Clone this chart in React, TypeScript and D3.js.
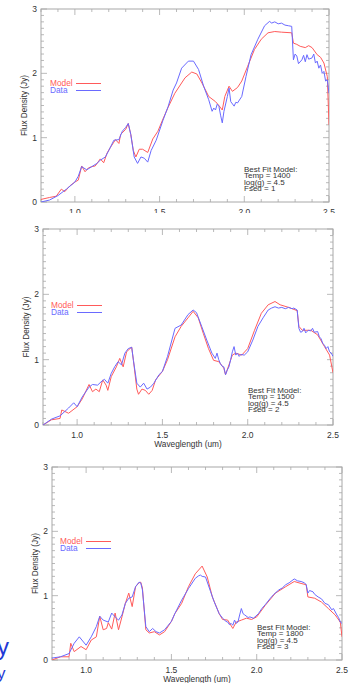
import React from 'react'
import * as d3 from 'd3'

type Pt = [number, number]

const xTicks = [1.0, 1.5, 2.0, 2.5]
const yTicks = [0, 1, 2, 3]
const legendLabels = ['Model', 'Data']
const temps = [1400, 1500, 1800]
const fseds = [1, 2, 3]
const logg = 4.5
const xTitle = 'Waveglength (um)'
const yTitle = 'Flux Density (Jy)'

// panel 1 : Temp 1400, Fsed 1
const model1: Pt[] = [[0.8,0.04],[0.85,0.07],[0.89,0.09],[0.92,0.2],[0.94,0.16],[0.97,0.25],[1.0,0.31],[1.02,0.34],[1.04,0.56],[1.06,0.47],[1.08,0.53],[1.1,0.55],[1.12,0.56],[1.15,0.67],[1.17,0.61],[1.19,0.76],[1.21,0.85],[1.23,0.93],[1.24,0.97],[1.26,0.91],[1.27,1.05],[1.3,1.13],[1.315,1.22],[1.33,1.05],[1.345,0.8],[1.36,0.7],[1.38,0.82],[1.4,0.82],[1.43,0.77],[1.46,0.98],[1.49,1.1],[1.52,1.29],[1.55,1.47],[1.59,1.69],[1.65,1.93],[1.69,2.02],[1.72,1.99],[1.75,1.85],[1.79,1.64],[1.83,1.56],[1.85,1.5],[1.87,1.43],[1.885,1.64],[1.91,1.8],[1.93,1.72],[1.96,1.78],[1.985,1.88],[2.02,2.11],[2.06,2.37],[2.1,2.53],[2.14,2.63],[2.18,2.65],[2.22,2.64],[2.28,2.63],[2.29,2.47],[2.31,2.45],[2.33,2.42],[2.36,2.4],[2.38,2.43],[2.4,2.4],[2.43,2.29],[2.45,2.25],[2.47,2.16],[2.49,1.95],[2.5,1.2]]
const data1: Pt[] = [[0.8,0.0],[0.85,0.03],[0.9,0.1],[0.95,0.2],[1.0,0.31],[1.02,0.4],[1.04,0.55],[1.07,0.5],[1.1,0.55],[1.13,0.6],[1.15,0.65],[1.18,0.7],[1.2,0.8],[1.23,0.96],[1.26,0.97],[1.28,1.1],[1.3,1.16],[1.315,1.22],[1.33,1.05],[1.35,0.7],[1.37,0.6],[1.39,0.7],[1.41,0.68],[1.43,0.62],[1.45,0.8],[1.48,0.96],[1.52,1.27],[1.55,1.48],[1.58,1.74],[1.6,1.85],[1.63,2.08],[1.67,2.19],[1.7,2.19],[1.73,2.06],[1.76,1.8],[1.79,1.59],[1.81,1.41],[1.82,1.46],[1.83,1.43],[1.84,1.52],[1.85,1.49],[1.86,1.35],[1.87,1.23],[1.88,1.41],[1.9,1.64],[1.91,1.77],[1.92,1.56],[1.94,1.49],[1.95,1.55],[1.96,1.54],[1.985,1.64],[2.01,1.95],[2.04,2.29],[2.08,2.53],[2.12,2.74],[2.15,2.81],[2.16,2.78],[2.18,2.8],[2.2,2.77],[2.22,2.78],[2.24,2.75],[2.26,2.74],[2.28,2.73],[2.29,2.21],[2.3,2.3],[2.31,2.27],[2.32,2.15],[2.34,2.21],[2.35,2.28],[2.36,2.18],[2.37,2.29],[2.38,2.22],[2.4,2.24],[2.41,2.3],[2.42,2.16],[2.43,2.19],[2.44,2.08],[2.45,2.13],[2.46,2.0],[2.47,2.03],[2.48,1.88],[2.49,1.9],[2.5,1.69]]

// panel 2 : Temp 1500, Fsed 2
const model2: Pt[] = [[0.8,0.0],[0.85,0.08],[0.9,0.1],[0.91,0.23],[0.95,0.18],[1.0,0.28],[1.03,0.4],[1.07,0.62],[1.09,0.51],[1.11,0.55],[1.13,0.51],[1.15,0.69],[1.17,0.61],[1.18,0.53],[1.2,0.74],[1.23,0.89],[1.25,1.02],[1.27,0.89],[1.29,1.12],[1.31,1.17],[1.32,1.19],[1.33,0.99],[1.35,0.55],[1.36,0.47],[1.38,0.55],[1.4,0.53],[1.42,0.47],[1.44,0.53],[1.46,0.69],[1.5,0.82],[1.53,1.0],[1.574,1.35],[1.61,1.51],[1.65,1.64],[1.68,1.74],[1.71,1.64],[1.74,1.4],[1.77,1.17],[1.8,0.99],[1.83,0.97],[1.86,0.87],[1.87,0.77],[1.89,0.92],[1.91,1.07],[1.93,1.1],[1.965,1.07],[2.0,1.17],[2.04,1.45],[2.08,1.71],[2.12,1.84],[2.16,1.89],[2.19,1.84],[2.24,1.8],[2.29,1.75],[2.3,1.51],[2.32,1.45],[2.37,1.45],[2.41,1.38],[2.45,1.2],[2.48,1.07],[2.5,0.8]]
const data2: Pt[] = [[0.8,0.0],[0.85,0.09],[0.9,0.14],[0.95,0.26],[0.98,0.34],[1.0,0.28],[1.03,0.43],[1.07,0.58],[1.09,0.62],[1.12,0.61],[1.14,0.66],[1.16,0.7],[1.18,0.64],[1.2,0.79],[1.22,0.89],[1.24,0.97],[1.26,0.92],[1.28,1.1],[1.3,1.17],[1.32,1.19],[1.33,0.99],[1.35,0.64],[1.37,0.58],[1.39,0.64],[1.41,0.55],[1.43,0.58],[1.45,0.64],[1.48,0.77],[1.5,0.82],[1.53,1.05],[1.574,1.48],[1.61,1.53],[1.65,1.69],[1.68,1.76],[1.7,1.72],[1.73,1.51],[1.76,1.3],[1.79,1.1],[1.81,1.02],[1.82,1.1],[1.83,1.0],[1.84,0.94],[1.85,0.9],[1.86,0.89],[1.87,0.77],[1.88,0.84],[1.89,0.89],[1.9,1.0],[1.91,1.12],[1.92,1.2],[1.93,1.07],[1.94,1.1],[1.95,1.05],[1.96,1.08],[1.98,1.07],[2.0,1.12],[2.03,1.3],[2.06,1.51],[2.09,1.64],[2.12,1.76],[2.14,1.79],[2.16,1.81],[2.18,1.79],[2.2,1.8],[2.22,1.78],[2.24,1.8],[2.26,1.78],[2.27,1.79],[2.29,1.76],[2.3,1.48],[2.31,1.42],[2.32,1.43],[2.33,1.48],[2.34,1.41],[2.355,1.45],[2.37,1.44],[2.38,1.48],[2.39,1.42],[2.41,1.43],[2.42,1.35],[2.43,1.32],[2.44,1.25],[2.45,1.22],[2.46,1.17],[2.47,1.2],[2.48,1.12],[2.49,1.1],[2.5,1.05]]

// panel 3 : Temp 1800, Fsed 3
const model3: Pt[] = [[0.8,0.0],[0.85,0.05],[0.9,0.05],[0.91,0.26],[0.93,0.13],[0.97,0.21],[1.0,0.16],[1.03,0.31],[1.06,0.36],[1.08,0.68],[1.1,0.47],[1.12,0.49],[1.13,0.58],[1.15,0.48],[1.17,0.73],[1.19,0.47],[1.21,0.67],[1.23,0.88],[1.25,1.04],[1.27,0.83],[1.29,1.14],[1.31,1.2],[1.32,1.21],[1.33,1.12],[1.35,0.47],[1.37,0.42],[1.4,0.44],[1.43,0.39],[1.46,0.44],[1.5,0.6],[1.52,0.72],[1.56,0.88],[1.6,1.14],[1.64,1.34],[1.68,1.46],[1.71,1.29],[1.74,0.98],[1.78,0.72],[1.8,0.63],[1.83,0.62],[1.86,0.49],[1.88,0.59],[1.91,0.62],[1.94,0.65],[1.97,0.63],[2.0,0.67],[2.05,0.85],[2.11,1.04],[2.17,1.14],[2.22,1.22],[2.26,1.19],[2.29,1.17],[2.3,0.98],[2.34,0.96],[2.38,0.9],[2.42,0.8],[2.46,0.7],[2.49,0.59],[2.5,0.36]]
const data3: Pt[] = [[0.8,0.03],[0.85,0.05],[0.9,0.1],[0.93,0.26],[0.96,0.36],[1.0,0.23],[1.03,0.36],[1.06,0.52],[1.08,0.68],[1.1,0.62],[1.13,0.59],[1.15,0.73],[1.17,0.67],[1.19,0.62],[1.21,0.7],[1.23,0.88],[1.25,0.96],[1.27,0.98],[1.29,1.14],[1.31,1.21],[1.32,1.2],[1.33,1.09],[1.35,0.52],[1.37,0.44],[1.39,0.49],[1.41,0.44],[1.43,0.42],[1.46,0.47],[1.5,0.6],[1.52,0.72],[1.56,0.93],[1.6,1.11],[1.64,1.27],[1.66,1.31],[1.67,1.32],[1.68,1.3],[1.7,1.29],[1.73,1.06],[1.75,0.91],[1.78,0.72],[1.8,0.65],[1.82,0.6],[1.83,0.59],[1.84,0.55],[1.85,0.57],[1.86,0.54],[1.87,0.62],[1.88,0.57],[1.89,0.59],[1.9,0.7],[1.91,0.8],[1.92,0.72],[1.93,0.7],[1.95,0.66],[1.96,0.67],[1.98,0.65],[1.99,0.67],[2.01,0.72],[2.03,0.8],[2.05,0.86],[2.08,0.96],[2.1,1.02],[2.13,1.09],[2.15,1.12],[2.17,1.17],[2.19,1.2],[2.22,1.26],[2.24,1.23],[2.26,1.22],[2.28,1.2],[2.29,1.17],[2.3,1.04],[2.31,1.08],[2.33,1.06],[2.34,1.02],[2.36,0.98],[2.38,0.95],[2.4,0.88],[2.42,0.86],[2.44,0.78],[2.45,0.8],[2.47,0.7],[2.48,0.66],[2.49,0.59],[2.5,0.57]]

const RED = '#ff5a5a'
const BLUE = '#6a6aff'
const AXIS = '#a8a8a8'
const TXT = '#333'
const FONT = '"Liberation Sans", Arial, sans-serif'

// layout of each panel (pixels)
const boxes = [
  { left: 41, right: 329, top: 9, bottom: 202, legX: 50, legY: 86, infoX: 244, infoY: 172, title: false, clip: 213 },
  { left: 43, right: 333, top: 229, bottom: 425, legX: 51, legY: 308, infoX: 248, infoY: 393, title: true, clip: 460 },
  { left: 52, right: 342, top: 467, bottom: 660, legX: 60, legY: 544, infoX: 257, infoY: 630, title: true, clip: 700 },
]
const series = [[model1, data1], [model2, data2], [model3, data3]]

function Panel({ i }: { i: number }) {
  const b = boxes[i]
  const [model, data] = series[i]
  const x = d3.scaleLinear().domain([0.8, 2.5]).range([b.left, b.right])
  const y = d3.scaleLinear().domain([0, 3]).range([b.bottom, b.top])
  const line = d3.line<Pt>().x(d => x(d[0])).y(d => y(d[1]))
  const xMinor = d3.range(8, 26).map(v => v / 10)
  const yMinor = d3.range(0, 31).map(v => v / 10)
  const info = ['Best Fit Model:', `Temp = ${temps[i]}`, `log(g) = ${logg}`, `Fsed = ${fseds[i]}`]
  const isMajor = (v: number, arr: number[]) => arr.some(t => Math.abs(t - v) < 1e-6)

  return (
    <g clipPath={`url(#pclip${i})`}>
      <clipPath id={`pclip${i}`}>
        <rect x={0} y={b.top - 12} width={350} height={b.clip - b.top + 12} />
      </clipPath>
      <clipPath id={`plot${i}`}>
        <rect x={b.left} y={b.top} width={b.right - b.left} height={b.bottom - b.top} />
      </clipPath>
      <rect x={b.left} y={b.top} width={b.right - b.left} height={b.bottom - b.top} fill="none" stroke={AXIS} strokeWidth={1} />
      {xMinor.map(v => {
        const len = isMajor(v, xTicks) ? 6 : 3
        return (
          <g key={'x' + v} stroke={AXIS} strokeWidth={0.8}>
            <line x1={x(v)} x2={x(v)} y1={b.bottom} y2={b.bottom - len} />
            <line x1={x(v)} x2={x(v)} y1={b.top} y2={b.top + len} />
          </g>
        )
      })}
      {yMinor.map(v => {
        const len = isMajor(v, yTicks) ? 6 : 3
        return (
          <g key={'y' + v} stroke={AXIS} strokeWidth={0.8}>
            <line x1={b.left} x2={b.left + len} y1={y(v)} y2={y(v)} />
            <line x1={b.right} x2={b.right - len} y1={y(v)} y2={y(v)} />
          </g>
        )
      })}
      {xTicks.map(v => (
        <text key={'xl' + v} x={x(v)} y={b.bottom + 13} textAnchor="middle" fontSize={8.5} fill={TXT} fontFamily={FONT}>
          {v.toFixed(1)}
        </text>
      ))}
      {yTicks.map(v => (
        <text key={'yl' + v} x={b.left - 4} y={y(v) + 3} textAnchor="end" fontSize={8.5} fill={TXT} fontFamily={FONT}>
          {v}
        </text>
      ))}
      {b.title && (
        <text x={(b.left + b.right) / 2} y={b.bottom + 22} textAnchor="middle" fontSize={8.3} fill={TXT} fontFamily={FONT}>
          {xTitle}
        </text>
      )}
      <text transform={`translate(${b.left - 14},${(b.top + b.bottom) / 2}) rotate(-90)`} textAnchor="middle" fontSize={8.2} fill={TXT} fontFamily={FONT}>
        {yTitle}
      </text>
      <g clipPath={`url(#plot${i})`} fill="none" strokeWidth={1}>
        <path d={line(model) || ''} stroke={RED} />
        <path d={line(data) || ''} stroke={BLUE} />
      </g>
      {legendLabels.map((lab, k) => {
        const c = k === 0 ? RED : BLUE
        const ly = b.legY + k * 7
        return (
          <g key={lab}>
            <text x={b.legX} y={ly} fontSize={8.3} fill={c} fontFamily={FONT}>{lab}</text>
            <line x1={b.legX + 26} x2={b.legX + 51} y1={ly - 2.5} y2={ly - 2.5} stroke={c} strokeWidth={1} />
          </g>
        )
      })}
      {info.map((t, k) => (
        <text key={t} x={b.infoX} y={b.infoY + k * 6.4} fontSize={8} fill={TXT} fontFamily={FONT}>{t}</text>
      ))}
    </g>
  )
}

export default function App() {
  return (
    <svg width={350} height={683} style={{ position: 'absolute', left: 0, top: 0, background: '#fff' }}>
      <rect width={350} height={683} fill="#fff" />
      {boxes.map((_, i) => <Panel key={i} i={i} />)}
      <text x={-3} y={655} fontSize={24} fill="#1f3ad6" fontFamily={FONT}>y</text>
      <text x={-3} y={679} fontSize={17} fill="#1f3ad6" fontFamily={FONT}>y</text>
    </svg>
  )
}
